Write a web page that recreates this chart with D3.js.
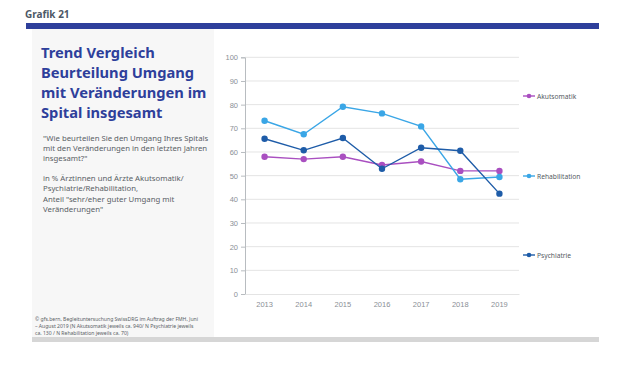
<!DOCTYPE html>
<html lang="de">
<head>
<meta charset="UTF-8">
<title>Grafik 21</title>
<script src="https://d3js.org/d3.v7.min.js"></script>
<style>
  body { margin: 0; background: #fff; }
  svg { font-family: "Noto Sans", sans-serif; }
  .grid line { stroke: #e4e4e4; }
  .tick text { fill: #8a8f96; font-size: 7.5px; }
</style>
</head>
<body>
<svg width="640" height="368"></svg>
<script>
const years = ["2013", "2014", "2015", "2016", "2017", "2018", "2019"];
const akutsomatik = [58, 57, 58, 54.5, 56, 52, 52];
const rehabilitation = [73.2, 67.5, 79.1, 76.3, 70.8, 48.5, 49.4];
const psychiatrie = [65.6, 60.7, 65.9, 52.9, 61.8, 60.5, 42.4];
const yTicks = [0, 10, 20, 30, 40, 50, 60, 70, 80, 90, 100];

const series = [
  { name: "Akutsomatik", values: akutsomatik, color: "#a94fc0", legendY: 96 },
  { name: "Rehabilitation", values: rehabilitation, color: "#3aa6e6", legendY: 176 },
  { name: "Psychiatrie", values: psychiatrie, color: "#1e5ca8", legendY: 255 }
];

const titleLines = ["Trend Vergleich", "Beurteilung Umgang", "mit Veränderungen im", "Spital insgesamt"];
const questionLines = [
  "\"Wie beurteilen Sie den Umgang Ihres Spitals",
  "mit den Veränderungen in den letzten Jahren",
  "insgesamt?\"",
  "",
  "in % Ärztinnen und Ärzte Akutsomatik/",
  "Psychiatrie/Rehabilitation,",
  "Anteil \"sehr/eher guter Umgang mit",
  "Veränderungen\""
];
const sourceLines = [
  "© gfs.bern, Begleituntersuchung SwissDRG im Auftrag der FMH, Juni",
  "– August 2019 (N Akutsomatik jeweils ca. 940/ N Psychiatrie jeweils",
  "ca. 130 / N Rehabilitation jeweils ca. 70)"
];

const svg = d3.select("svg");

// header
svg.append("text").attr("x", 25).attr("y", 18)
  .attr("font-size", 10).attr("font-weight", "bold").attr("fill", "#4d5866")
  .text("Grafik 21");
svg.append("rect").attr("x", 26).attr("y", 23).attr("width", 573).attr("height", 6)
  .attr("fill", "#2e3f9b");

// left panel
svg.append("rect").attr("x", 32).attr("y", 29).attr("width", 182).attr("height", 308)
  .attr("fill", "#f7f7f7");
svg.append("rect").attr("x", 32).attr("y", 337).attr("width", 567).attr("height", 5)
  .attr("fill", "#d6d6d6");

svg.append("g").attr("transform", "translate(41,0)")
  .selectAll("text").data(titleLines).join("text")
  .attr("x", 0).attr("y", (d, i) => 57.5 + i * 20)
  .attr("font-size", 14.7).attr("font-weight", "bold").attr("fill", "#2e3f9b")
  .text(d => d);

svg.append("g").attr("transform", "translate(43,0) scale(1.05,1)")
  .selectAll("text").data(questionLines).join("text")
  .attr("x", 0).attr("y", (d, i) => 141 + i * 10.1)
  .attr("font-size", 7.4).attr("fill", "#5a5f66")
  .text(d => d);

svg.append("g").attr("transform", "translate(35,0) scale(0.98,1)")
  .selectAll("text").data(sourceLines).join("text")
  .attr("x", 0).attr("y", (d, i) => 321 + i * 7.1)
  .attr("font-size", 5.2).attr("fill", "#5a5f66")
  .text(d => d);

// chart
const x = d3.scaleBand().domain(years).range([245, 519]);
const y = d3.scaleLinear().domain([0, 100]).range([294, 57.3]);

svg.append("g").attr("class", "grid")
  .selectAll("line").data(yTicks.slice(1)).join("line")
  .attr("x1", 245).attr("x2", 519)
  .attr("y1", d => y(d)).attr("y2", d => y(d));

const yAxis = svg.append("g").attr("transform", "translate(245,0)")
  .call(d3.axisLeft(y).tickValues(yTicks).tickSize(4).tickPadding(3));
yAxis.select(".domain").attr("stroke", "#b8bcc0");
yAxis.selectAll(".tick line").attr("stroke", "#b8bcc0");

const xAxis = svg.append("g").attr("transform", "translate(0,294)")
  .call(d3.axisBottom(x).tickSize(0).tickPadding(8));
xAxis.select(".domain").attr("stroke", "#e4e4e4");

const line = d3.line().x((d, i) => x(years[i]) + x.bandwidth() / 2).y(d => y(d));

series.forEach(s => {
  const g = svg.append("g");
  g.append("path").attr("d", line(s.values))
    .attr("fill", "none").attr("stroke", s.color).attr("stroke-width", 1.4);
  g.selectAll("circle").data(s.values).join("circle")
    .attr("cx", (d, i) => x(years[i]) + x.bandwidth() / 2)
    .attr("cy", d => y(d)).attr("r", 3.2).attr("fill", s.color);

  // legend
  g.append("line").attr("x1", 523).attr("x2", 535)
    .attr("y1", s.legendY).attr("y2", s.legendY)
    .attr("stroke", s.color).attr("stroke-width", 1.4);
  g.append("circle").attr("cx", 529).attr("cy", s.legendY).attr("r", 2.3).attr("fill", s.color);
  g.append("text").attr("transform", `translate(537,${s.legendY + 2.8}) scale(0.88,1)`)
    .attr("font-size", 7.6).attr("fill", "#555b63").text(s.name);
});
</script>
</body>
</html>
